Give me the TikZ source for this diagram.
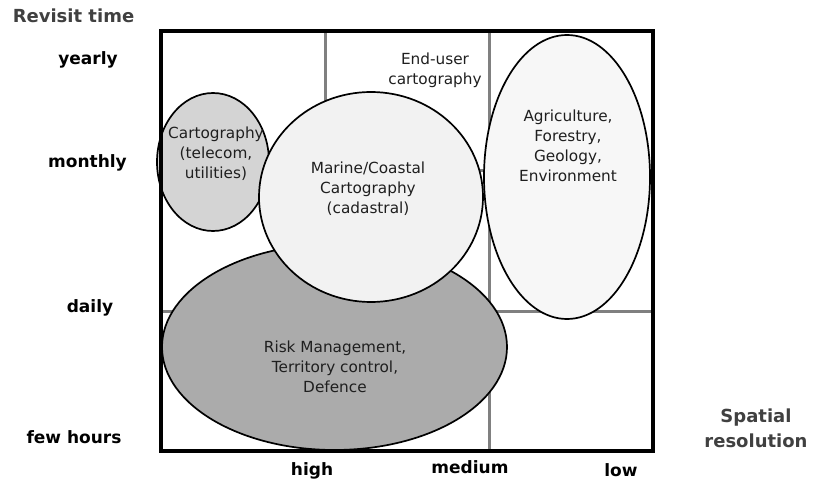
\documentclass[tikz,border=0pt]{standalone}
\usepackage{fontspec}
\setmainfont{DejaVu Sans}
\begin{document}
\begin{tikzpicture}[x=1pt,y=-1pt,
  gridline/.style={draw=black!50, line width=3pt},
  zone/.style={draw=black, line width=1.7pt},
  zonetext/.style={align=center, text=black!88, font=\fontsize{15.3}{20}\selectfont},
  axislabel/.style={anchor=base, font=\fontsize{17}{20}\bfseries\selectfont},
  axistitle/.style={anchor=base, align=center, text=black!75, font=\fontsize{18}{25}\bfseries\selectfont}]
\useasboundingbox (0,0) rectangle (814,481);
% grid
\draw[gridline] (325,31) -- (325,451);
\draw[gridline] (489,31) -- (489,451);
\draw[gridline] (161,171) -- (653,171);
\draw[gridline] (161,311) -- (653,311);
% zones
\fill[black!33] (334.5,347) ellipse [x radius=172.5, y radius=103];
\draw[zone] (334.5,347) ellipse [x radius=172.5, y radius=103];
\fill[black!17] (213,162) ellipse [x radius=56, y radius=69];
\draw[zone] (213,162) ellipse [x radius=56, y radius=69];
\fill[black!5] (371,197) ellipse [x radius=112, y radius=105];
\draw[zone] (371,197) ellipse [x radius=112, y radius=105];
\fill[black!3] (567,177) ellipse [x radius=83, y radius=142];
\draw[zone] (567,177) ellipse [x radius=83, y radius=142];
% frame
\draw[line width=3.3pt] (161,31) rectangle (653,451);
% zone texts
\node[zonetext] (risk) at (335,367) {Risk Management,\\Territory control,\\Defence};
\node[zonetext] (carto) at (216,154) {Cartography\\(telecom,\\utilities)};
\node[zonetext] (marine) at (368,189) {Marine/Coastal\\Cartography\\(cadastral)};
\node[zonetext] (agri) at (568,146) {Agriculture,\\Forestry,\\Geology,\\Environment};
\node[zonetext] (enduser) at (435,70) {End-user\\cartography};
% axis labels
\node[axistitle] (revisit) at (73.5,23) {Revisit time};
\node[axislabel] (yearly) at (88,65) {yearly};
\node[axislabel] (monthly) at (87.5,168) {monthly};
\node[axislabel] (daily) at (90,312) {daily};
\node[axislabel] (fewhours) at (74,443) {few hours};
\node[axislabel] (high) at (312,475) {high};
\node[axislabel] (medium) at (470,473) {medium};
\node[axislabel] (low) at (621,476) {low};
\node[axistitle] (spatial) at (756,447) {Spatial\\resolution};
\end{tikzpicture}
\end{document}
